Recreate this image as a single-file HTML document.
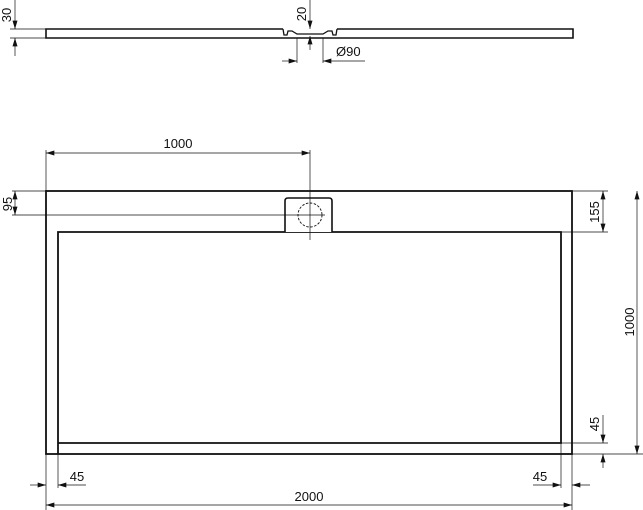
<!DOCTYPE html>
<html><head><style>body{margin:0;background:#fff}svg{display:block}</style></head><body>
<svg width="643" height="510" viewBox="0 0 643 510" xmlns="http://www.w3.org/2000/svg" font-family="Liberation Sans, sans-serif" font-size="13" fill="#111">
<defs><marker id="a" viewBox="0 0 10 6" refX="10" refY="3" markerWidth="9" markerHeight="5" orient="auto-start-reverse" markerUnits="userSpaceOnUse"><path d="M0,0L10,3L0,6z" fill="#111"/></marker></defs>
<g stroke="#111" fill="none">
<!-- profile -->
<path d="M283,29H46V38H573V29H337" stroke-width="1.6"/>
<path d="M283,29l1,6h3l1,-4h4l5,3h26l5,-3h4l1,4h3l1,-6" stroke-width="1.3"/>
<g stroke-width="0.7">
<path d="M10,29H46 M10,38H46"/>
<path d="M15,0V29" marker-end="url(#a)"/><path d="M15,56V38" marker-end="url(#a)"/>
<path d="M310,0V29" marker-end="url(#a)"/><path d="M310,50V36" marker-end="url(#a)"/>
<path d="M297,38V63 M323,38V63"/>
<path d="M282,61H297" marker-end="url(#a)"/><path d="M365,61H323" marker-end="url(#a)"/>
</g>
<!-- plan -->
<rect x="46" y="191" width="526" height="263" stroke-width="1.8"/>
<path d="M58,454V232H561V443H58" stroke-width="1.8"/>
<path d="M285,232V201q0,-3 3,-3h41q3,0 3,3V232" stroke-width="1.6" fill="#fff"/>
<circle cx="310" cy="215" r="12" stroke-width="0.9" stroke-dasharray="2.5,1.5"/>
<g stroke-width="0.7">
<path d="M46,150V510 M310,150V240 M12,191H46 M12,215H325 M572,191H608 M561,232H608 M561,443H608 M572,454H643 M58,454V488 M561,443V488 M572,454V510"/>
<path d="M46,153H310" marker-start="url(#a)" marker-end="url(#a)"/>
<path d="M15,191V215" marker-start="url(#a)" marker-end="url(#a)"/>
<path d="M603,191V232" marker-start="url(#a)" marker-end="url(#a)"/>
<path d="M637,191V454" marker-start="url(#a)" marker-end="url(#a)"/>
<path d="M603,415V443" marker-end="url(#a)"/><path d="M603,468V454" marker-end="url(#a)"/>
<path d="M30,485H46" marker-end="url(#a)"/><path d="M86,485H58" marker-end="url(#a)"/>
<path d="M533,485H561" marker-end="url(#a)"/><path d="M590,485H572" marker-end="url(#a)"/>
<path d="M46,505H572" marker-start="url(#a)" marker-end="url(#a)"/>
</g>
</g>
<g stroke="none">
<text transform="translate(11,15) rotate(-90)" text-anchor="middle">30</text>
<text transform="translate(306,14) rotate(-90)" text-anchor="middle">20</text>
<text x="336" y="56">Ø90</text>
<text x="178" y="148" text-anchor="middle">1000</text>
<text transform="translate(12,204) rotate(-90)" text-anchor="middle">95</text>
<text transform="translate(599,212) rotate(-90)" text-anchor="middle">155</text>
<text transform="translate(634,322) rotate(-90)" text-anchor="middle">1000</text>
<text transform="translate(599,424) rotate(-90)" text-anchor="middle">45</text>
<text x="77" y="481" text-anchor="middle">45</text>
<text x="540" y="481" text-anchor="middle">45</text>
<text x="309" y="501" text-anchor="middle">2000</text>
</g>
</svg>
</body></html>
